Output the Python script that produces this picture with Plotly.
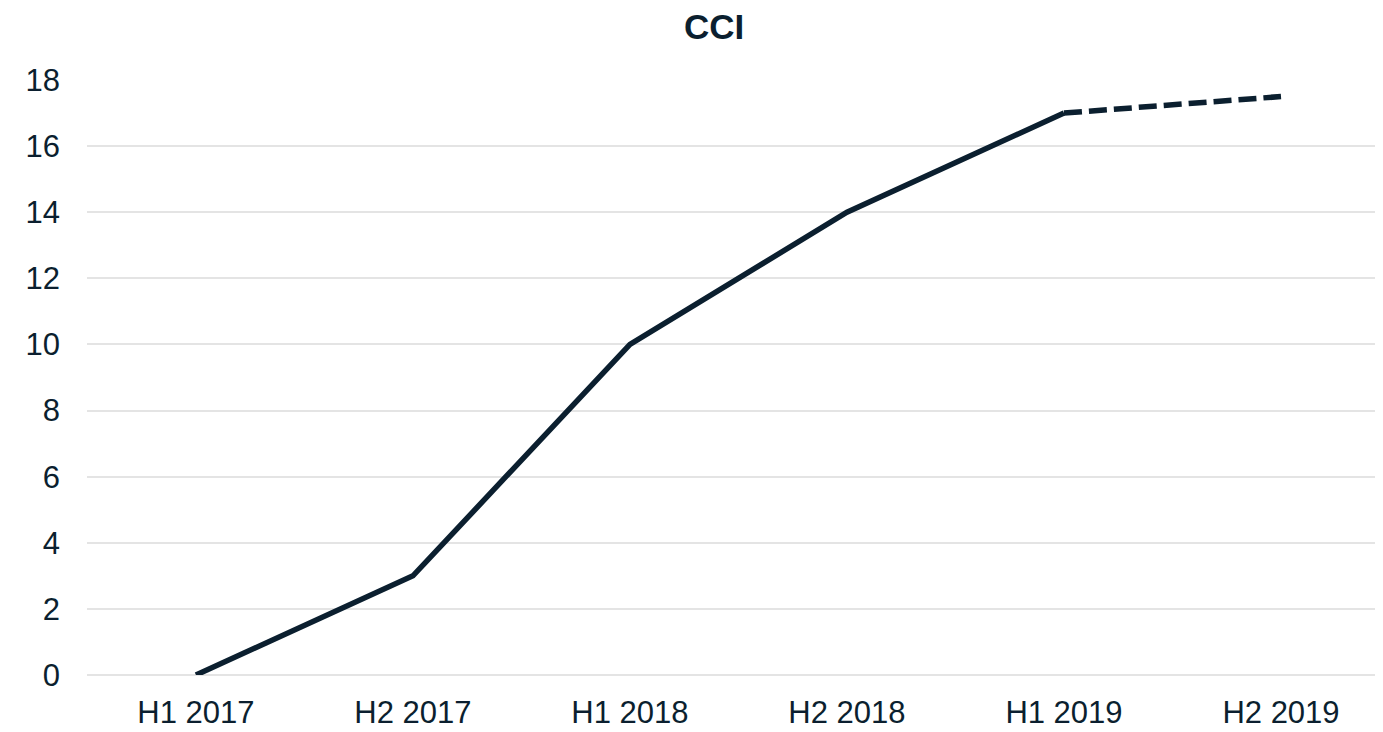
import plotly.graph_objects as go

categories = ["H1 2017", "H2 2017", "H1 2018", "H2 2018", "H1 2019", "H2 2019"]
actual = [0, 3, 10, 14, 17, None]
forecast = [None, None, None, None, 17, 17.5]
y_ticks = [0, 2, 4, 6, 8, 10, 12, 14, 16, 18]

navy = "#0b1f2f"
grid = "#e4e4e4"

fig = go.Figure()
fig.add_trace(go.Scatter(x=categories, y=actual, mode="lines",
                         line=dict(color=navy, width=5.5), showlegend=False))
fig.add_trace(go.Scatter(x=categories, y=forecast, mode="lines",
                         line=dict(color=navy, width=5.5, dash="18px,7px"), showlegend=False))

# page body has an 8px margin; compensate so the plot lands where the reference has it
fig.update_layout(
    width=1375, height=724,
    margin=dict(l=79, r=0, t=72, b=57),
    paper_bgcolor="white", plot_bgcolor="white",
    font=dict(family="Liberation Sans, Arial, sans-serif", color=navy, size=31),
    title=dict(text="<b>CCI</b>", x=0.5135, xanchor="center", y=0.974, yanchor="middle",
               font=dict(size=35, color=navy)),
    xaxis=dict(type="category", range=[-0.502, 5.47], showgrid=False, showline=False,
               ticks="", ticklabelstandoff=16, tickfont=dict(size=31)),
    yaxis=dict(range=[0, 18], tickvals=y_ticks, showgrid=True, gridcolor=grid, gridwidth=2,
               zeroline=True, zerolinecolor=grid, zerolinewidth=2, showline=False,
               ticks="", ticklabelstandoff=26, tickfont=dict(size=31)),
)

fig.write_html("out.html")
